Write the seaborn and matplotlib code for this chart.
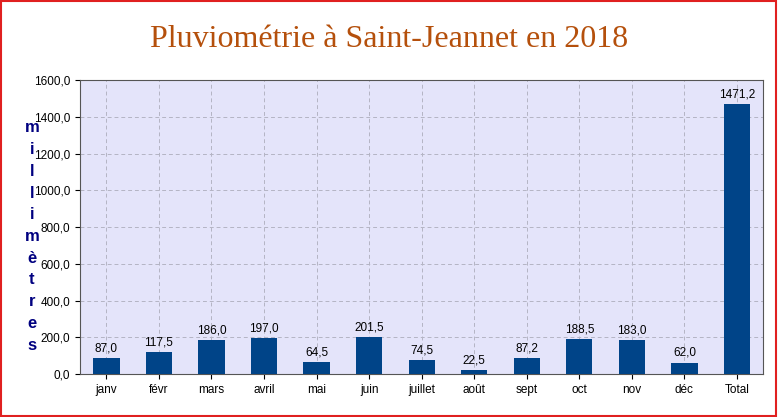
import seaborn as sns
import pandas as pd
import matplotlib.pyplot as plt
from matplotlib.ticker import FuncFormatter, MultipleLocator
from matplotlib.patches import Rectangle

months = ["janv", "févr", "mars", "avril", "mai", "juin", "juillet",
          "août", "sept", "oct", "nov", "déc", "Total"]
rain = [87.0, 117.5, 186.0, 197.0, 64.5, 201.5, 74.5,
        22.5, 87.2, 188.5, 183.0, 62.0, 1471.2]

df = pd.DataFrame({"mois": months, "pluie": rain})

fig = plt.figure(figsize=(7.78, 4.17), dpi=100)
ax = fig.add_axes([0.103, 0.103, 0.878, 0.705])
ax.set_facecolor("#E4E4FA")

sns.barplot(data=df, x="mois", y="pluie", color="#004488", saturation=1,
            width=0.5, ax=ax, zorder=3)

fmt = lambda v: f"{v:.1f}".replace(".", ",")
for i, v in enumerate(rain):
    ax.text(i, v + 20, fmt(v), ha="center", va="bottom", fontsize=8.5,
            fontfamily="Liberation Sans")

ax.set_ylim(0, 1600)
ax.yaxis.set_major_locator(MultipleLocator(200))
ax.yaxis.set_major_formatter(FuncFormatter(lambda v, p: fmt(v)))
ax.grid(True, color="#B4B4C4", linestyle=(0, (4, 3)), linewidth=0.7, zorder=0)
ax.set_xlabel("")
ax.set_ylabel("")
for lab in ax.get_xticklabels() + ax.get_yticklabels():
    lab.set_fontfamily("Liberation Sans")
    lab.set_fontsize(8.5)
for s in ax.spines.values():
    s.set_color("#555555")
    s.set_linewidth(0.8)

fig.text(0.5, 0.905, "Pluviométrie à Saint-Jeannet en 2018", ha="center",
         va="center", fontsize=23, color="#B5500C", fontfamily="Liberation Serif")

for k, ch in enumerate("millimètres"):
    y = 128 + k * 21.7
    fig.text(32 / 778, 1 - y / 417, ch, ha="center", va="center",
             fontsize=12, fontweight="bold", color="#000080",
             fontfamily="Liberation Sans")

fig.patches.append(Rectangle((0.001, 0.002), 0.997, 0.996, transform=fig.transFigure,
                             fill=False, edgecolor="#E02020", linewidth=1.5))

plt.savefig("out.png", dpi=100, facecolor="white")
